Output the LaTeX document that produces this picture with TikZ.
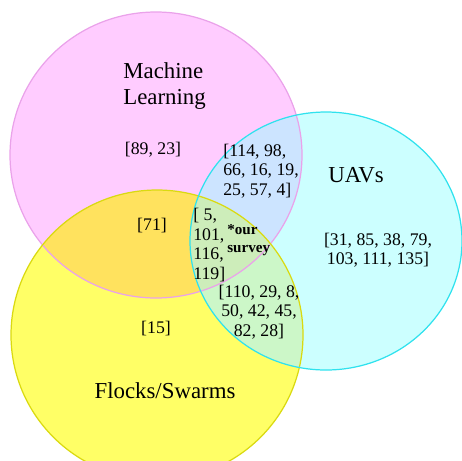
\documentclass[tikz,border=0pt]{standalone}
\usepackage{fontspec}
\setmainfont{Liberation Serif}
\usepackage{tikz}

\definecolor{mlfill}{HTML}{FFCCFF}
\definecolor{uavfill}{HTML}{CCFFFF}
\definecolor{flfill}{HTML}{FFFF66}
\definecolor{mlfl}{HTML}{FFE25E}
\definecolor{mluav}{HTML}{CCE4FF}
\definecolor{uavfl}{HTML}{CCF7C8}
\definecolor{allfill}{HTML}{CDEDBA}
\definecolor{mledge}{HTML}{EAA2EA}
\definecolor{uavedge}{HTML}{2FE2EE}
\definecolor{fledge}{HTML}{DADA10}

\begin{document}
\begin{tikzpicture}[x=0.02cm,y=-0.02cm,
  title/.style={font=\fontsize{13}{14.5}\selectfont,align=left,inner sep=0pt},
  refs/.style={font=\fontsize{10.1}{11.1}\selectfont,align=center,inner sep=0pt},
  refsl/.style={refs,align=left},
  ours/.style={font=\fontsize{8.6}{10.3}\selectfont\bfseries,align=left,inner sep=0pt},
  rim/.style={line width=0.7pt}]
\useasboundingbox (0,0) rectangle (462,460);
\clip (0,0) rectangle (462,460);
% the three sets
\fill[mlfill] (156,155) ellipse [x radius=146, y radius=143];
\fill[flfill] (157,335) ellipse [x radius=146, y radius=145];
\fill[uavfill] (326,241) ellipse [x radius=136, y radius=129];
% pairwise overlaps
\begin{scope}
  \clip (156,155) ellipse [x radius=146, y radius=143];
  \fill[mlfl] (157,335) ellipse [x radius=146, y radius=145];
  \fill[mluav] (326,241) ellipse [x radius=136, y radius=129];
\end{scope}
\begin{scope}
  \clip (157,335) ellipse [x radius=146, y radius=145];
  \fill[uavfl] (326,241) ellipse [x radius=136, y radius=129];
\end{scope}
% all three
\begin{scope}
  \clip (156,155) ellipse [x radius=146, y radius=143];
  \clip (157,335) ellipse [x radius=146, y radius=145];
  \fill[allfill] (326,241) ellipse [x radius=136, y radius=129];
\end{scope}
% outlines
\draw[rim,mledge] (156,155) ellipse [x radius=146, y radius=143];
\draw[rim,fledge] (157,335) ellipse [x radius=146, y radius=145];
\draw[rim,uavedge] (326,241) ellipse [x radius=136, y radius=129];
% labels
\node[title,anchor=west] (ml) at (123,86) {Machine\\Learning};
\node[title] (uav) at (356,175) {UAVs};
\node[title] (fl) at (165,391) {Flocks/Swarms};
\node[refs] (mlonly) at (153,150) {[89, 23]};
\node[refsl,anchor=west] (mluavrefs) at (223,171) {[114, 98,\\66, 16, 19,\\25, 57, 4]};
\node[refs] (uavonly) at (378,250) {[31, 85, 38, 79,\\ 103, 111, 135]};
\node[refs] (mlflrefs) at (152,226) {[71]};
\node[refsl,anchor=west] (allrefs) at (193,245) {[ 5,\\101,\\116,\\119]};
\node[ours,anchor=west] (survey) at (227,240) {*our\\survey};
\node[refs] (uavflrefs) at (259,312) {[110, 29, 8,\\50, 42, 45,\\82, 28]};
\node[refs] (flonly) at (156,329) {[15]};
\end{tikzpicture}
\end{document}
